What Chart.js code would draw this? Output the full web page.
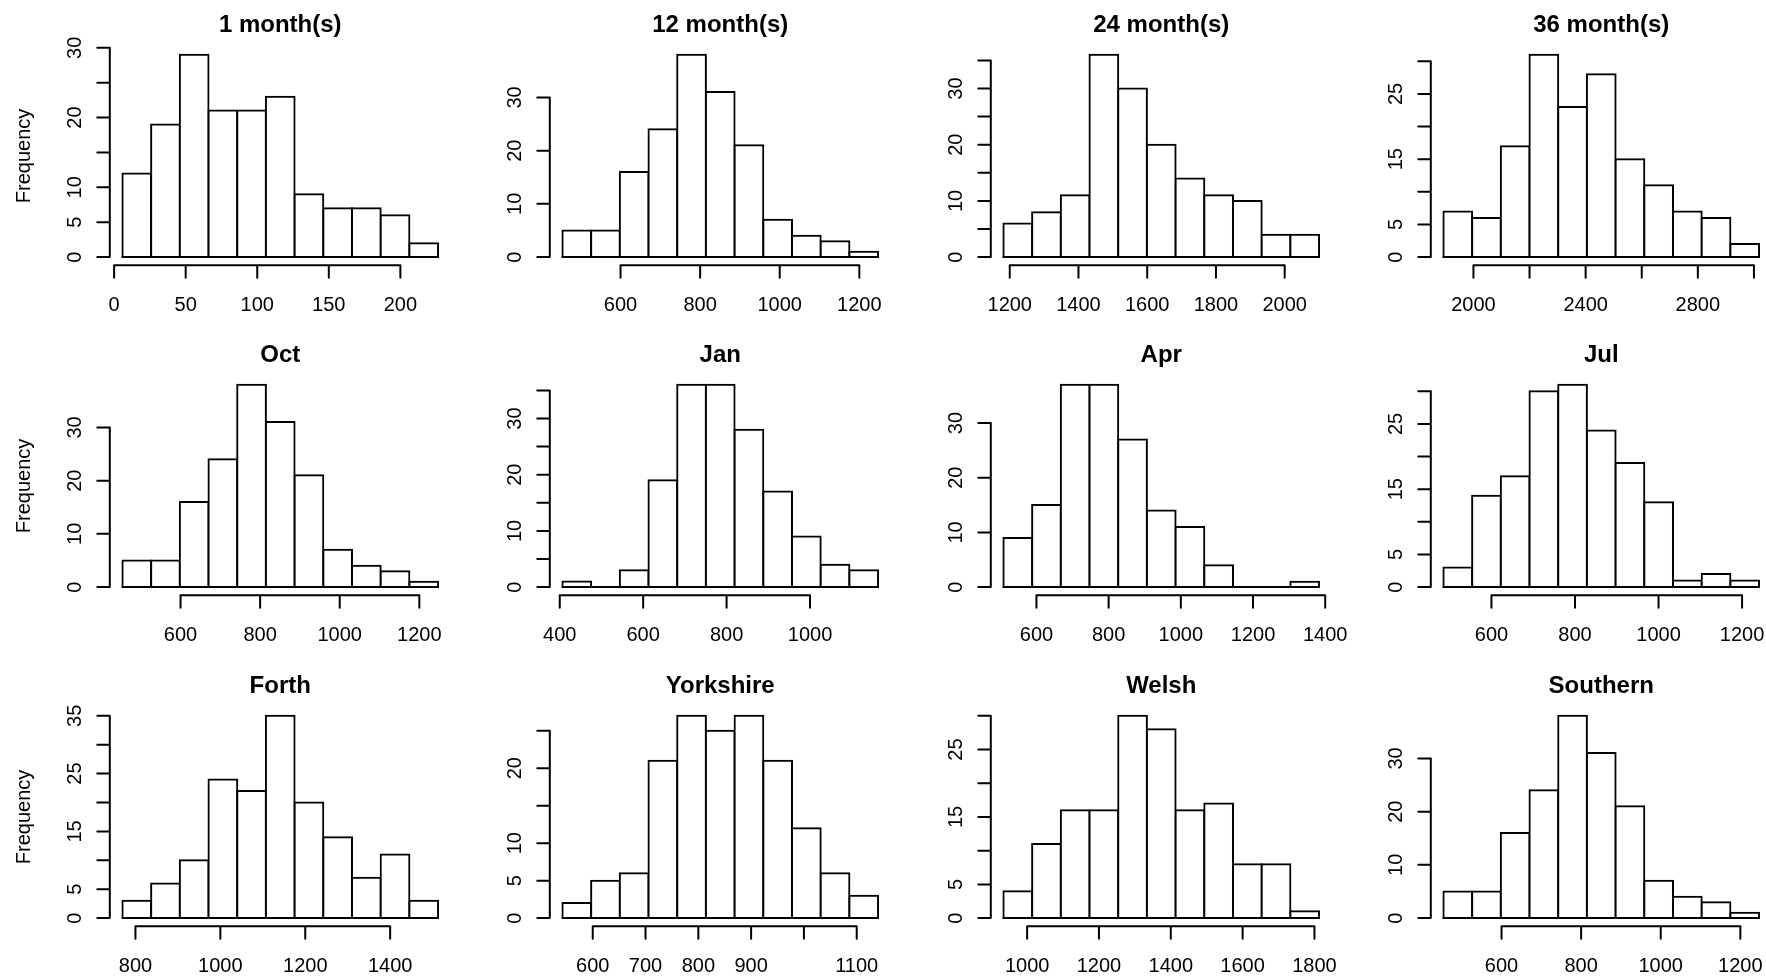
<!DOCTYPE html>
<html>
<head>
<meta charset="utf-8">
<script src="https://cdn.jsdelivr.net/npm/chart.js@4.4.1/dist/chart.umd.min.js"></script>
<style>
html, body { margin: 0; padding: 0; background: #ffffff; width: 1766px; height: 976px; overflow: hidden; }
#wrap { position: relative; width: 1766px; height: 976px; overflow: hidden; background: #ffffff; }
#wrap canvas { position: absolute; }
</style>
</head>
<body>
<div id="wrap"></div>
<script>
// ---------------- DATA ----------------
const titles = ['1 month(s)', '12 month(s)', '24 month(s)', '36 month(s)',
                'Oct', 'Jan', 'Apr', 'Jul',
                'Forth', 'Yorkshire', 'Welsh', 'Southern'];

const counts1m       = [12, 19, 29, 21, 21, 23, 9, 7, 7, 6, 2];
const counts12m      = [5, 5, 16, 24, 38, 31, 21, 7, 4, 3, 1];
const counts24m      = [6, 8, 11, 36, 30, 20, 14, 11, 10, 4, 4];
const counts36m      = [7, 6, 17, 31, 23, 28, 15, 11, 7, 6, 2];
const countsOct      = [5, 5, 16, 24, 38, 31, 21, 7, 4, 3, 1];
const countsJan      = [1, 0, 3, 19, 36, 36, 28, 17, 9, 4, 3];
const countsApr      = [9, 15, 37, 37, 27, 14, 11, 4, 0, 0, 1];
const countsJul      = [3, 14, 17, 30, 31, 24, 19, 13, 1, 2, 1];
const countsForth    = [3, 6, 10, 24, 22, 35, 20, 14, 7, 11, 3];
const countsYorkshire= [2, 5, 6, 21, 27, 25, 27, 21, 12, 6, 3];
const countsWelsh    = [4, 11, 16, 16, 30, 28, 16, 17, 8, 8, 1];
const countsSouthern = [5, 5, 16, 24, 38, 31, 21, 7, 4, 3, 1];

// first break and bin width of each histogram
const binStart = [5.8, 454, 1181.6, 1893, 454, 406.4, 508.5, 485, 769.3, 542.6, 934, 454];
const binWidth = [20.05, 72.1, 83.5, 102.3, 72.1, 68.8, 79.5, 68.7, 67.6, 54.35, 79.9, 72.1];

// x axis tick values and labels ('' = tick without label)
const xTicks1m  = [0, 50, 100, 150, 200];            const xLabels1m  = ['0', '50', '100', '150', '200'];
const xTicks12m = [600, 800, 1000, 1200];            const xLabels12m = ['600', '800', '1000', '1200'];
const xTicks24m = [1200, 1400, 1600, 1800, 2000];    const xLabels24m = ['1200', '1400', '1600', '1800', '2000'];
const xTicks36m = [2000, 2200, 2400, 2600, 2800, 3000]; const xLabels36m = ['2000', '', '2400', '', '2800', ''];
const xTicksJan = [400, 600, 800, 1000];             const xLabelsJan = ['400', '600', '800', '1000'];
const xTicksApr = [600, 800, 1000, 1200, 1400];      const xLabelsApr = ['600', '800', '1000', '1200', '1400'];
const xTicksJul = [600, 800, 1000, 1200];            const xLabelsJul = ['600', '800', '1000', '1200'];
const xTicksForth = [800, 1000, 1200, 1400];         const xLabelsForth = ['800', '1000', '1200', '1400'];
const xTicksYork = [600, 700, 800, 900, 1000, 1100]; const xLabelsYork = ['600', '700', '800', '900', '', '1100'];
const xTicksWelsh = [1000, 1200, 1400, 1600, 1800];  const xLabelsWelsh = ['1000', '1200', '1400', '1600', '1800'];

// y axis tick values and labels
const yTicksBy5to30 = [0, 5, 10, 15, 20, 25, 30];
const yTicksBy5to35 = [0, 5, 10, 15, 20, 25, 30, 35];
const yTicksBy5to25 = [0, 5, 10, 15, 20, 25];
const yTicksBy10    = [0, 10, 20, 30];
const yLabels1m     = ['0', '5', '10', '', '20', '', '30'];
const yLabelsBy10   = ['0', '10', '20', '30'];
const yLabels10s35  = ['0', '', '10', '', '20', '', '30', ''];
const yLabelsOdd30  = ['0', '5', '', '15', '', '25', ''];
const yLabelsOdd35  = ['0', '5', '', '15', '', '25', '', '35'];
const yLabelsYork   = ['0', '5', '10', '', '20', ''];

const allCounts = [counts1m, counts12m, counts24m, counts36m, countsOct, countsJan, countsApr, countsJul,
                   countsForth, countsYorkshire, countsWelsh, countsSouthern];
const allXTicks = [xTicks1m, xTicks12m, xTicks24m, xTicks36m, xTicks12m, xTicksJan, xTicksApr, xTicksJul,
                   xTicksForth, xTicksYork, xTicksWelsh, xTicks12m];
const allXLabels = [xLabels1m, xLabels12m, xLabels24m, xLabels36m, xLabels12m, xLabelsJan, xLabelsApr, xLabelsJul,
                    xLabelsForth, xLabelsYork, xLabelsWelsh, xLabels12m];
const allYTicks = [yTicksBy5to30, yTicksBy10, yTicksBy5to35, yTicksBy5to30, yTicksBy10, yTicksBy5to35, yTicksBy10, yTicksBy5to30,
                   yTicksBy5to35, yTicksBy5to25, yTicksBy5to30, yTicksBy10];
const allYLabels = [yLabels1m, yLabelsBy10, yLabels10s35, yLabelsOdd30, yLabelsBy10, yLabels10s35, yLabelsBy10, yLabelsOdd30,
                    yLabelsOdd35, yLabelsYork, yLabelsOdd30, yLabelsBy10];

// ---------------- LAYOUT ----------------
const COL_X = [0, 440, 881, 1321];
const ROW_Y = [0, 330, 661];
const CW = 470, CH = 331;
const PLOT = { left: 109.8, top: 46.7, right: 450.7, bottom: 265.2 };
const FONT = '"Liberation Sans", Arial, Helvetica, sans-serif';

const rAxes = {
  id: 'rAxes',
  afterDatasetsDraw(chart) {
    const o = chart.options.plugins.rAxes;
    const ctx = chart.ctx, ca = chart.chartArea;
    const xs = chart.scales.x, ys = chart.scales.y;
    ctx.save();
    ctx.strokeStyle = '#000'; ctx.fillStyle = '#000';
    ctx.lineWidth = 2; ctx.lineCap = 'round';
    // bottom edge of all bins (zero-height bins included)
    const y0 = ys.getPixelForValue(0);
    ctx.beginPath();
    ctx.moveTo(xs.getPixelForValue(o.first), y0);
    ctx.lineTo(xs.getPixelForValue(o.last), y0);
    ctx.stroke();
    // x axis
    const xt = o.xTicks.map(v => xs.getPixelForValue(v));
    ctx.beginPath();
    ctx.moveTo(xt[0], ca.bottom); ctx.lineTo(xt[xt.length - 1], ca.bottom);
    xt.forEach(px => { ctx.moveTo(px, ca.bottom); ctx.lineTo(px, ca.bottom + 12.5); });
    ctx.stroke();
    ctx.font = '20px ' + FONT;
    ctx.textAlign = 'center'; ctx.textBaseline = 'alphabetic';
    o.xLabels.forEach((t, i) => { if (t) ctx.fillText(t, xt[i], ca.bottom + 46); });
    // y axis
    const yt = o.yTicks.map(v => ys.getPixelForValue(v));
    ctx.beginPath();
    ctx.moveTo(ca.left, yt[0]); ctx.lineTo(ca.left, yt[yt.length - 1]);
    yt.forEach(py => { ctx.moveTo(ca.left, py); ctx.lineTo(ca.left - 12.5, py); });
    ctx.stroke();
    o.yLabels.forEach((t, i) => {
      if (!t) return;
      ctx.save();
      ctx.translate(ca.left - 29.3, yt[i]);
      ctx.rotate(-Math.PI / 2);
      ctx.fillText(t, 0, 0);
      ctx.restore();
    });
    if (o.ylab) {
      ctx.save();
      ctx.translate(ca.left - 79.8, (ca.top + ca.bottom) / 2);
      ctx.rotate(-Math.PI / 2);
      ctx.fillText(o.ylab, 0, 0);
      ctx.restore();
    }
    ctx.font = 'bold 24px ' + FONT;
    ctx.fillText(o.title, (ca.left + ca.right) / 2, 31.8);
    ctx.restore();
  }
};

const wrap = document.getElementById('wrap');
for (let k = 0; k < 12; k++) {
  const row = Math.floor(k / 4), col = k % 4;
  const cv = document.createElement('canvas');
  cv.width = CW; cv.height = CH;
  cv.style.left = COL_X[col] + 'px';
  cv.style.top = ROW_Y[row] + 'px';
  cv.style.width = CW + 'px'; cv.style.height = CH + 'px';
  wrap.appendChild(cv);

  const counts = allCounts[k];
  const s = binStart[k], w = binWidth[k];
  const n = counts.length;
  const first = s, last = s + n * w, span = last - first;
  const maxC = Math.max(...counts);
  const xt = allXTicks[k];

  new Chart(cv, {
    type: 'bar',
    data: {
      datasets: [{
        data: counts.map((c, i) => ({ x: s + (i + 0.5) * w, y: c })),
        backgroundColor: '#ffffff',
        borderColor: '#000000',
        borderWidth: 2,
        borderSkipped: false,
        inflateAmount: 1,
        barPercentage: 1,
        categoryPercentage: 1
      }]
    },
    options: {
      responsive: false,
      animation: false,
      events: [],
      layout: { padding: { left: PLOT.left, top: PLOT.top, right: CW - PLOT.right, bottom: CH - PLOT.bottom } },
      scales: {
        x: {
          type: 'linear', display: false, offset: false,
          min: first - 0.04 * span, max: last + 0.04 * span,
          afterBuildTicks: (ax) => { ax.ticks = xt.map(v => ({ value: v })); }
        },
        y: {
          type: 'linear', display: false,
          min: -0.04 * maxC, max: 1.04 * maxC
        }
      },
      plugins: {
        legend: { display: false },
        tooltip: { enabled: false },
        title: { display: false },
        rAxes: {
          title: titles[k],
          ylab: col === 0 ? 'Frequency' : '',
          first: first, last: last,
          xTicks: xt, xLabels: allXLabels[k],
          yTicks: allYTicks[k], yLabels: allYLabels[k]
        }
      }
    },
    plugins: [rAxes]
  });
}
</script>
</body>
</html>
